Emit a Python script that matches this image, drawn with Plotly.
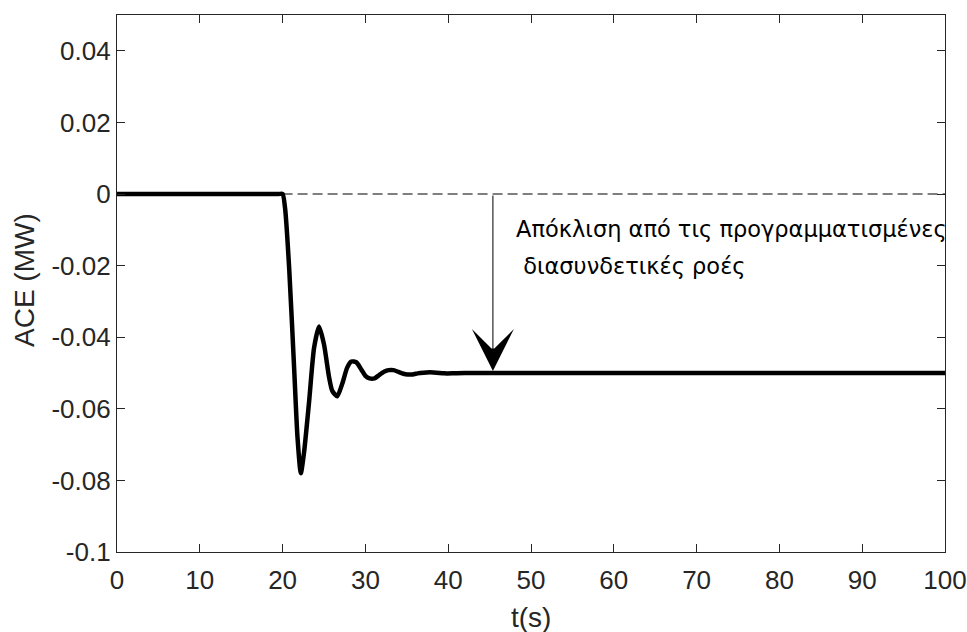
import plotly.graph_objects as go

# Data
t = [0, 19.5, 20.0, 20.3, 20.8, 21.4, 21.8, 22.2, 22.6, 23.2, 23.8, 24.4, 25.0, 25.6, 26.0,
     26.6, 27.2, 27.8, 28.3, 28.9, 29.5, 30.0, 30.5, 31.1, 31.7, 32.3, 32.8, 33.4, 34.0,
     34.6, 35.1, 35.7, 36.3, 37.0, 37.8, 38.6, 39.5, 40.5, 42.0, 100]
ace = [0, 0, 0, -0.004, -0.021, -0.049, -0.068, -0.078, -0.072, -0.058, -0.043, -0.037,
       -0.042, -0.051, -0.055, -0.0565, -0.053, -0.0485, -0.0468, -0.047, -0.049, -0.0508,
       -0.0515, -0.0515, -0.0505, -0.0496, -0.0492, -0.0492, -0.0497, -0.0502, -0.0504,
       -0.0504, -0.0501, -0.0499, -0.0498, -0.0499, -0.0501, -0.0501, -0.05, -0.05]
ref_t = [20, 100]
ref_v = [0, 0]
arrow_t = 45.4
arrow_from = 0.0
arrow_to = -0.05
label_line1 = "Απόκλιση από τις προγραμματισμένες"
label_line2 = "\u00a0διασυνδετικές ροές"
xticks = [0, 10, 20, 30, 40, 50, 60, 70, 80, 90, 100]
yticks = [-0.1, -0.08, -0.06, -0.04, -0.02, 0, 0.02, 0.04, 0.05]
yticktext = ["-0.1", "-0.08", "-0.06", "-0.04", "-0.02", "0", "0.02", "0.04", ""]

FONT = "Liberation Sans, Arial, sans-serif"
AFONT = "DejaVu Sans, Verdana, sans-serif"
AX = "#262626"

fig = go.Figure()
fig.add_trace(go.Scatter(x=ref_t, y=ref_v, mode="lines",
                         line=dict(color="#555555", width=1.3, dash="10px,5px"),
                         hoverinfo="skip"))
fig.add_trace(go.Scatter(x=t, y=ace, mode="lines",
                         line=dict(color="black", width=4.5, shape="spline", smoothing=0.6)))

fig.add_annotation(x=arrow_t, y=arrow_to, ax=arrow_t, ay=arrow_from,
                   xref="x", yref="y", axref="x", ayref="y", text="",
                   showarrow=True, arrowhead=3, arrowsize=7, arrowwidth=1,
                   arrowcolor="black", standoff=2)
fig.add_annotation(x=47.9, y=-0.0098, xref="x", yref="y", text=label_line1,
                   showarrow=False, xanchor="left", yanchor="middle",
                   font=dict(family=AFONT, size=22.5, color="black"))
fig.add_annotation(x=47.9, y=-0.0200, xref="x", yref="y", text=label_line2,
                   showarrow=False, xanchor="left", yanchor="middle",
                   font=dict(family=AFONT, size=22.5, color="black"))

# axis titles
fig.add_annotation(x=0.5, y=617, xref="paper", yref="paper", text="t(s)", showarrow=False,
                   font=dict(family=FONT, size=28, color=AX), yanchor="middle")
fig.add_annotation(x=24, y=280, text="ACE (MW)", showarrow=False, textangle=-90,
                   font=dict(family=FONT, size=28, color=AX), xanchor="center", yanchor="middle")

fig.update_layout(
    width=967, height=632,
    margin=dict(l=117, r=22, t=15, b=80),
    paper_bgcolor="white", plot_bgcolor="white",
    showlegend=False,
    font=dict(family=FONT, color=AX),
)
fig.update_xaxes(range=[0, 100], tickvals=xticks, ticks="inside", ticklen=8, tickwidth=1.3,
                 tickcolor=AX, showline=True, linecolor=AX, linewidth=1.3, mirror="ticks",
                 showgrid=False, zeroline=False, tickfont=dict(size=26, color=AX),
                 automargin=False, ticklabelstandoff=5)
fig.update_yaxes(range=[-0.1, 0.05], tickvals=yticks, ticktext=yticktext, ticks="inside",
                 ticklen=8, tickwidth=1.3, tickcolor=AX, showline=True, linecolor=AX,
                 linewidth=1.3, mirror="ticks", showgrid=False, zeroline=False,
                 tickfont=dict(size=26, color=AX), automargin=False)

# convert pixel positions of axis titles to paper coordinates
pw, ph = 967 - 117 - 22, 632 - 15 - 80
anns = list(fig.layout.annotations)
anns[3].y = (632 - 80 - 617) / ph
anns[4].x = (24 - 117) / pw
anns[4].xref = "paper"
anns[4].y = (632 - 80 - 280) / ph
anns[4].yref = "paper"
fig.layout.annotations = anns

fig.write_html("out.html")
